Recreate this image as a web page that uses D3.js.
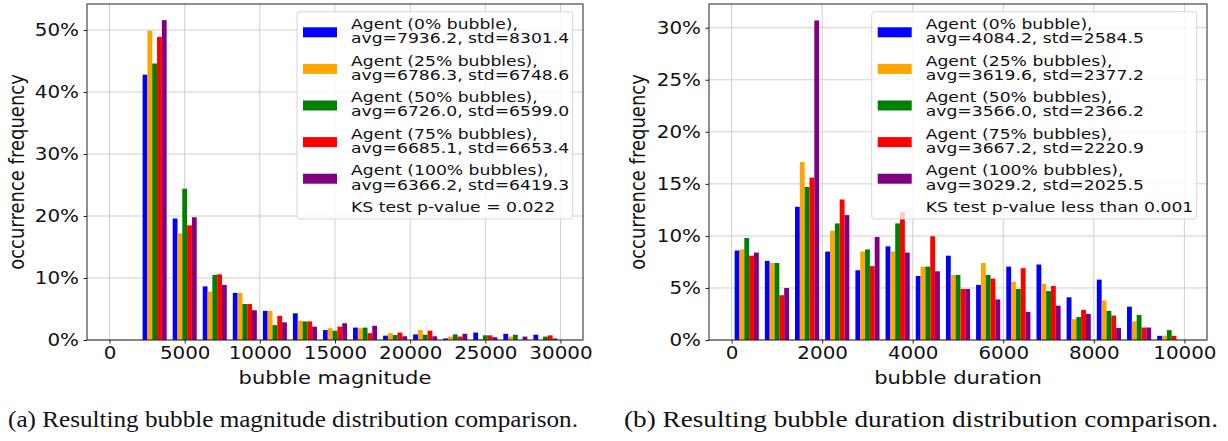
<!DOCTYPE html>
<html>
<head>
<meta charset="utf-8">
<script src="https://cdn.jsdelivr.net/npm/d3@7"></script>
<style>
	body { margin: 0; background: #fff; }
	svg { display: block; font-family: "DejaVu Sans", sans-serif; }
</style>
</head>
<body>
<div id="container"></div>
<script>
// 1. Data (percent of occurrences per bin)
const seriesNames = [
	"Agent (0% bubble),",
	"Agent (25% bubbles),",
	"Agent (50% bubbles),",
	"Agent (75% bubbles),",
	"Agent (100% bubbles),",
]
const colors = ["#0000ff", "#ffa500", "#008000", "#ff0000", "#800080"]

const magnitudeBins = [0, 2000, 4000, 6000, 8000, 10000, 12000, 14000, 16000, 18000, 20000, 22000, 24000, 26000, 28000]
const magnitude0 = [0, 42.8, 19.6, 8.65, 7.6, 4.7, 4.3, 1.6, 2.0, 0.7, 0.9, 0.25, 1.2, 1.0, 0.85]
const magnitude25 = [0, 49.9, 17.2, 7.8, 7.6, 4.7, 3.1, 1.9, 1.9, 1.1, 1.6, 0.55, 0.2, 0.55, 0]
const magnitude50 = [0, 44.6, 24.4, 10.5, 5.8, 2.4, 3.0, 1.5, 2.0, 0.8, 0.85, 0.9, 0.75, 0.85, 0.55]
const magnitude75 = [0, 48.9, 18.5, 10.6, 5.8, 3.9, 3.0, 2.15, 1.1, 1.2, 1.5, 0.55, 0.75, 0, 0.75]
const magnitude100 = [0, 51.6, 19.8, 8.9, 4.8, 2.85, 2.15, 2.7, 2.3, 0.6, 0.6, 1.0, 0.45, 0.55, 0.25]
const magnitudeStats = [
	"avg=7936.2, std=8301.4",
	"avg=6786.3, std=6748.6",
	"avg=6726.0, std=6599.0",
	"avg=6685.1, std=6653.4",
	"avg=6366.2, std=6419.3",
]

const durationBins = [0, 667, 1333, 2000, 2667, 3333, 4000, 4667, 5333, 6000, 6667, 7333, 8000, 8667, 9333]
const duration0 = [8.6, 7.6, 12.8, 8.5, 6.7, 9.0, 6.15, 8.1, 5.3, 7.05, 7.25, 4.1, 5.8, 3.2, 0.4]
const duration25 = [8.7, 7.4, 17.1, 10.5, 8.5, 8.5, 7.05, 6.25, 7.4, 5.6, 5.4, 2.0, 3.8, 1.8, 0.4]
const duration50 = [9.8, 7.4, 14.7, 11.2, 8.7, 11.2, 7.05, 6.25, 6.25, 4.9, 4.7, 2.2, 2.8, 2.4, 0.95]
const duration75 = [8.1, 4.3, 15.6, 13.5, 7.1, 12.3, 9.97, 4.9, 5.9, 6.9, 5.2, 2.9, 2.35, 1.2, 0.4]
const duration100 = [8.4, 5.0, 30.7, 12.0, 9.9, 8.4, 6.6, 4.9, 3.9, 2.7, 3.3, 2.5, 1.15, 1.2, 0]
const durationStats = [
	"avg=4084.2, std=2584.5",
	"avg=3619.6, std=2377.2",
	"avg=3566.0, std=2366.2",
	"avg=3667.2, std=2220.9",
	"avg=3029.2, std=2025.5",
]

const magnitudeXTicks = [0, 5000, 10000, 15000, 20000, 25000, 30000]
const magnitudeYTicks = [0, 10, 20, 30, 40, 50]
const durationXTicks = [0, 2000, 4000, 6000, 8000, 10000]
const durationYTicks = [0, 5, 10, 15, 20, 25, 30]

// 2. Dimensions (figure is stretched horizontally in the source image)
const width = 1228
const height = 441
const stretch = 1.17
const plotTop = 4
const plotBottom = 340

const svg = d3.select("#container")
	.append("svg")
	.attr("width", width)
	.attr("height", height)

function sx(x, y, extra = "") {
	return `translate(${x},${y}) scale(${stretch},1)${extra}`
}

// 3. Draw one histogram panel
function drawPanel({ left, right, xDomain, yMax, xTicks, yTicks, bins, series, stats, ks, xLabel, yLabelX, caption, captionX, captionLen }) {
	const x = d3.scaleLinear().domain(xDomain).range([left, right])
	const y = d3.scaleLinear().domain([0, yMax]).range([plotBottom, plotTop])
	const binWidth = (bins[bins.length - 1] - bins[0]) / (bins.length - 1)
	const barW = x(binWidth * 0.16) - x(0)

	const g = svg.append("g")

	// grid
	g.append("g").selectAll("line")
		.data(xTicks)
		.join("line")
		.attr("x1", d => x(d)).attr("x2", d => x(d))
		.attr("y1", plotTop).attr("y2", plotBottom)
		.attr("stroke", "#cfcfcf")
	g.append("g").selectAll("line")
		.data(yTicks)
		.join("line")
		.attr("x1", left).attr("x2", right)
		.attr("y1", d => y(d)).attr("y2", d => y(d))
		.attr("stroke", "#cfcfcf")

	// bars
	series.forEach((values, i) => {
		g.append("g")
			.attr("fill", colors[i])
			.selectAll("rect")
			.data(values)
			.join("rect")
			.attr("x", (d, j) => x(bins[j] + binWidth * (0.1 + 0.16 * i)))
			.attr("width", barW)
			.attr("y", d => y(d))
			.attr("height", d => y(0) - y(d))
	})

	// axes
	const xAxis = g.append("g")
		.attr("transform", `translate(0,${plotBottom})`)
		.call(d3.axisBottom(x).tickValues(xTicks).tickFormat(d3.format("d")).tickSize(3.5).tickPadding(3.5))
	const yAxis = g.append("g")
		.attr("transform", `translate(${left},0)`)
		.call(d3.axisLeft(y).tickValues(yTicks).tickFormat(d => d + "%").tickSize(3.5).tickPadding(4.5))
	;[xAxis, yAxis].forEach(a => {
		a.select(".domain").remove()
		a.selectAll(".tick line").attr("stroke", "#222")
		a.selectAll(".tick text")
			.attr("fill", "#111")
			.style("font-size", "17px")
			.style("font-family", "DejaVu Sans")
	})
	xAxis.selectAll(".tick text").attr("transform", `scale(${stretch},1)`)
	yAxis.selectAll(".tick text").attr("x", -8 / stretch).attr("transform", `scale(${stretch},1)`)

	// spines
	g.append("rect")
		.attr("x", left).attr("y", plotTop)
		.attr("width", right - left).attr("height", plotBottom - plotTop)
		.attr("fill", "none")
		.attr("stroke", "#222")
		.attr("stroke-width", 1)

	// labels
	g.append("text")
		.attr("transform", sx((left + right) / 2, 384))
		.attr("text-anchor", "middle")
		.style("font-size", "18px")
		.attr("fill", "#111")
		.text(xLabel)
	g.append("text")
		.attr("transform", sx(yLabelX, (plotTop + plotBottom) / 2, " rotate(-90)"))
		.attr("text-anchor", "middle")
		.style("font-size", "18px")
		.attr("fill", "#111")
		.text("occurrence frequency")

	// legend
	const boxRight = right - 10.3
	const boxLeft = boxRight - (ks.length > 25 ? 325 : 275.7)
	const legend = g.append("g")
	legend.append("rect")
		.attr("x", boxLeft).attr("y", 11.7)
		.attr("width", boxRight - boxLeft).attr("height", 207.3)
		.attr("rx", 3)
		.attr("fill", "#fff").attr("fill-opacity", 0.8)
		.attr("stroke", "#d6d6d6")
	const rowH = 36.6
	seriesNames.forEach((name, i) => {
		legend.append("rect")
			.attr("x", boxLeft + 6).attr("y", 27.3 + i * rowH)
			.attr("width", 34).attr("height", 10)
			.attr("fill", colors[i])
		const t = legend.append("text")
			.attr("transform", sx(boxLeft + 54, 0))
			.style("font-size", "14.7px")
			.attr("fill", "#111")
		t.append("tspan").attr("x", 0).attr("y", 29 + i * rowH).text(name)
		t.append("tspan").attr("x", 0).attr("y", 43.3 + i * rowH).text(stats[i])
	})
	legend.append("text")
		.attr("transform", sx(boxLeft + 54, 212))
		.style("font-size", "14.7px")
		.attr("fill", "#111")
		.text(ks)

	// caption
	svg.append("text")
		.attr("x", captionX).attr("y", 427)
		.attr("textLength", captionLen)
		.attr("lengthAdjust", "spacingAndGlyphs")
		.style("font-family", "Liberation Serif, serif")
		.style("font-size", "23px")
		.attr("fill", "#111")
		.text(caption)
}

drawPanel({
	left: 87, right: 583,
	xDomain: [-1500, 31500], yMax: 54.2,
	xTicks: magnitudeXTicks, yTicks: magnitudeYTicks,
	bins: magnitudeBins,
	series: [magnitude0, magnitude25, magnitude50, magnitude75, magnitude100],
	stats: magnitudeStats,
	ks: "KS test p-value = 0.022",
	xLabel: "bubble magnitude",
	yLabelX: 24,
	caption: "(a) Resulting bubble magnitude distribution comparison.",
	captionX: 8, captionLen: 570,
})

drawPanel({
	left: 709, right: 1207,
	xDomain: [-500, 10500], yMax: 32.28,
	xTicks: durationXTicks, yTicks: durationYTicks,
	bins: durationBins,
	series: [duration0, duration25, duration50, duration75, duration100],
	stats: durationStats,
	ks: "KS test p-value less than 0.001",
	xLabel: "bubble duration",
	yLabelX: 645,
	caption: "(b) Resulting bubble duration distribution comparison.",
	captionX: 624, captionLen: 594,
})
</script>
</body>
</html>
